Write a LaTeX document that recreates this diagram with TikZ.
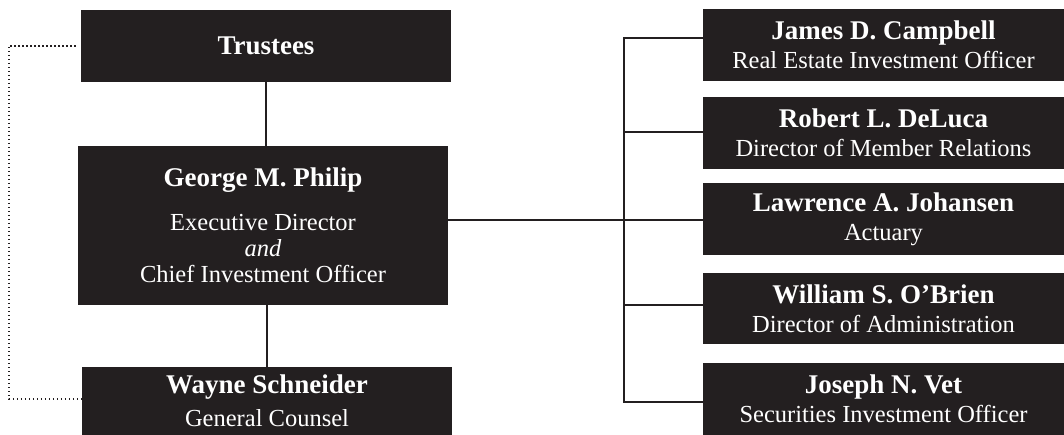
\documentclass[tikz,border=0pt]{standalone}
\usepackage{fontspec}
\setmainfont{Liberation Serif}
\definecolor{boxblack}{RGB}{35,31,32}
\tikzset{
	orgbox/.style={fill=boxblack, text=white, inner sep=0pt, align=center, font=\fontsize{24.5}{26}\selectfont},
	leftbox/.style={orgbox, minimum width=370pt},
	rightbox/.style={orgbox, minimum width=361pt, minimum height=72pt},
	link/.style={draw=boxblack, line width=2.2pt},
	dotlink/.style={draw=boxblack, line width=1.7pt, dash pattern=on 1.4pt off 2.6pt}
}
\newcommand{\who}[1]{{\fontsize{27}{29}\selectfont\bfseries #1}}

\begin{document}
\begin{tikzpicture}[x=1pt, y=-1pt]
	%%%%% START %%%%%
	\useasboundingbox (0, 0) rectangle (1064, 435);
	
	\node[leftbox, minimum height=72pt] (trustees) at (266, 46) {\who{Trustees}};
	\node[leftbox, minimum height=159pt] (philip) at (263, 225.5) {\who{George M. Philip}\\[18pt] Executive Director\\ \textit{and}\\ Chief Investment Officer};
	\node[leftbox, minimum height=68pt] (schneider) at (267, 401) {\who{Wayne Schneider}\\[7pt] General Counsel};
	
	\node[rightbox] (campbell) at (883.5, 45) {\who{James D. Campbell}\\[3pt] Real Estate Investment Officer};
	\node[rightbox] (deluca) at (883.5, 133) {\who{Robert L. DeLuca}\\[3pt] Director of Member Relations};
	\node[rightbox] (johansen) at (883.5, 219) {\who{Lawrence A. Johansen}\\[3pt] Actuary};
	\node[rightbox, minimum height=71pt] (obrien) at (883.5, 308.5) {\who{William S. O’Brien}\\[3pt] Director of Administration};
	\node[rightbox] (vet) at (883.5, 399) {\who{Joseph N. Vet}\\[3pt] Securities Investment Officer};
	
	\draw[link] (trustees.south) -- (trustees.south |- philip.north);
	\draw[link] (philip.south -| schneider.north) -- (schneider.north);
	\draw[link] ([yshift=5.5pt]philip.east) -- ([yshift=5.5pt]philip.east -| johansen.west);
	
	\draw[link] ([yshift=7pt]campbell.west) -- ++(-79, 0) |- ([yshift=-3pt]vet.west);
	\foreach \n/\s in {deluca/1pt, obrien/3.5pt}
		\draw[link] ([yshift=\s]\n.west) -- ++(-79, 0);
	
	\draw[dotlink] ([xshift=-5pt]trustees.west) -- ++(-67, 0) |- ([yshift=2pt]schneider.west);
	
	%%%%% END %%%%%
\end{tikzpicture}
\end{document}
